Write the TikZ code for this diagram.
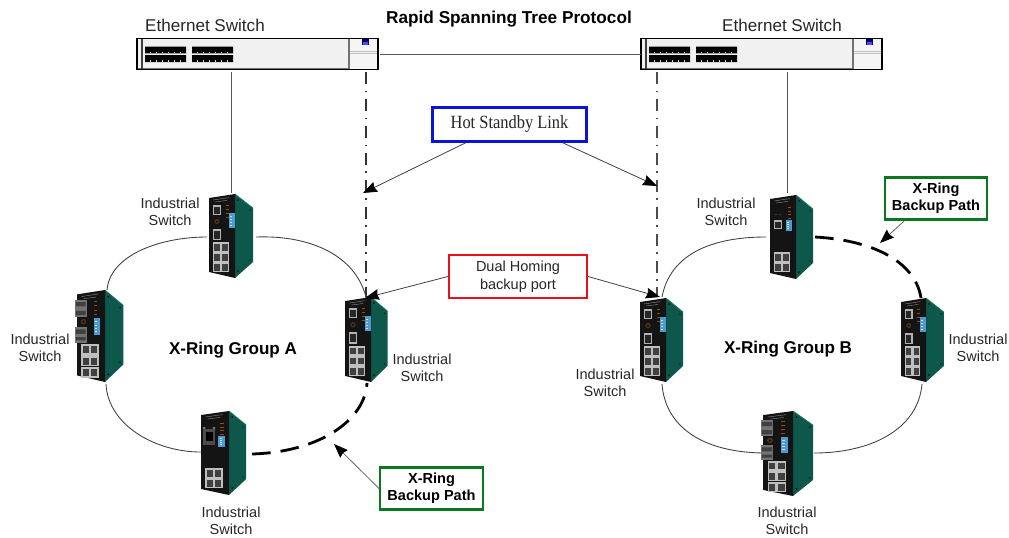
\documentclass[tikz,border=0pt]{standalone}
\usepackage{fontspec}
\setmainfont{Liberation Sans}
\newfontfamily\hotfont[FakeStretch=0.88]{Liberation Serif}
\usetikzlibrary{arrows.meta,calc}
\definecolor{teal1}{HTML}{0D584B}
\definecolor{teal2}{HTML}{1C7F6C}
\definecolor{dipblue}{HTML}{4F9BD0}
\definecolor{swfill}{HTML}{F1F1F1}
\tikzset{
  lbl/.style={align=center,inner sep=0pt,text=black!85,font=\fontsize{10.9}{12.8}\selectfont},
  ethlbl/.style={inner sep=0pt,text=black!85,font=\fontsize{12.8}{15}\selectfont},
  titlelbl/.style={inner sep=0pt,font=\fontsize{12.9}{15}\selectfont\bfseries},
  grouplbl/.style={inner sep=0pt,font=\fontsize{12.8}{15}\selectfont\bfseries},
  bluebox/.style={draw={rgb,255:red,10;green,20;blue,215},line width=1.9pt,fill=white,inner sep=0pt,
    minimum width=115.5pt,minimum height=25.5pt,font=\fontsize{14}{16}\selectfont\hotfont,text=black!85},
  redbox/.style={draw={rgb,255:red,235;green,15;blue,30},line width=1.7pt,fill=white,inner sep=0pt,align=center,
    minimum width=103.5pt,minimum height=32pt,font=\fontsize{10.9}{12.8}\selectfont,text=black!85},
  greenbox/.style={draw={rgb,255:red,10;green,120;blue,30},line width=1.7pt,fill=white,inner sep=0pt,align=center,
    minimum width=77pt,minimum height=31.5pt,font=\fontsize{10.9}{12.8}\selectfont\bfseries},
  ringline/.style={line width=0.65pt,black!75},
  backup/.style={line width=2.1pt,black,dash pattern=on 14pt off 7.5pt},
  uplink/.style={line width=0.65pt,black!65},
  standby/.style={line width=1pt,black!80,dash pattern=on 9pt off 5pt on 1.2pt off 5pt},
  pointer/.style={line width=0.6pt,black!75,-{Stealth[length=10.5pt,width=8pt,inset=1pt,color=black]}},
  devnode/.style={inner sep=0pt,outer sep=0pt,minimum size=1pt},
  swbox/.style={draw=black,line width=0.8pt,fill=swfill,inner sep=0pt,outer sep=0pt,minimum width=180.5pt,minimum height=23pt}
}
% RJ45 port
\newcommand{\rjport}[4]{%
  \fill[black!30] (#1,#2) rectangle ++(#3,#4);
  \fill[black!85] ($(#1,#2)+(1.4,1.6)$) rectangle ++($(#3,#4)-(2.8,3)$);
}
\newcommand{\lanport}[2]{%
  \fill[black!25] (#1,#2) rectangle ++(8,10);
  \fill[black!75] ($(#1,#2)+(1.3,2.2)$) rectangle ++(5.4,6.4);
}
\newcommand{\ledcol}[3]{%
  \foreach \k in {0,1,2,3}{\fill[orange!60!black] (#1,#2+\k*#3) rectangle ++(3,0.9);}
}
\newcommand{\dipsw}[3]{%
  \fill[dipblue] (#1,#2) rectangle ++(6,#3);
  \foreach \k in {1,2,3,4}{\fill[white!70!dipblue] (#1+1.2,#2+\k*#3/5-0.5) rectangle ++(2,1);}
}
% name, x, y, front width, height, green width (local), variant
\newcommand{\indsw}[7]{%
\begin{scope}[shift={(#2,#3)},xscale=#4/26,yscale=#5/84]
  \fill[teal1] (26,0) -- (26+#6,14) -- (26+#6,68) -- (26,84) -- cycle;
  \draw[teal2,line width=0.5pt] (26,0) -- (26+#6,14);
  \fill[black] (29,6) circle (0.9) (29,77) circle (0.9) (26+#6-3,16) circle (0.7) (26+#6-3,66) circle (0.7);
  \fill[black!92] (0,4) -- (26,0) -- (26,84) -- (0,78) -- cycle;
  \draw[black!45,line width=0.3pt] (4,6) -- (20,3.6) (6,8) -- (18,6.4);
  \ifcase#7\relax
    \rjport{4}{11}{8}{10}
    \fill[black!60!brown] (8,27.5) circle (2.6);
    \fill[black] (8,27.5) circle (1);
    \rjport{4}{35}{8}{11}
    \ledcol{17}{11}{4}
    \dipsw{19.5}{19}{15}
    \foreach \a in {4,12}{\foreach \b in {48,58,68}{\lanport{\a}{\b}}}
  \or
    \fill[black!55] (-2,9) rectangle (9,25);
    \fill[black!75] (-1,11) rectangle (8,15) (-1,19) rectangle (8,23);
    \fill[black!60!brown] (6,29) circle (2.6);
    \fill[black] (6,29) circle (1);
    \fill[black!55] (-2,34) rectangle (9,48);
    \fill[black!75] (-1,36) rectangle (8,40) (-1,43) rectangle (8,46);
    \ledcol{16}{10}{4}
    \dipsw{15.5}{26}{15}
    \foreach \a in {4,12}{\foreach \b in {49,59.5,70}{\lanport{\a}{\b}}}
  \or
    \fill[black!60!brown] (5,19) rectangle ++(2,1.2) (9,19) rectangle ++(2,1.2);
    \rjport{4}{25}{8}{9}
    \ledcol{18}{12}{3.5}
    \dipsw{15.5}{25}{11}
    \foreach \a in {4,12}{\foreach \b in {57,67}{\lanport{\a}{\b}}}
  \or
    \fill[black!55] (2,16) rectangle (4,20) (11,16) rectangle (13,20);
    \fill[black!70] (2,18) rectangle (13,34);
    \fill[black] (4.5,21) rectangle (11,30);
    \ledcol{18}{12}{3.5}
    \dipsw{16}{25}{11}
    \foreach \a in {4,12}{\foreach \b in {57,67}{\lanport{\a}{\b}}}
  \fi
  \path (13,42) node[devnode] (#1) {};
\end{scope}}
% name, x of left edge
\newcommand{\ethsw}[2]{%
\begin{scope}[shift={(#2,0)}]
  \node[swbox,anchor=north west] (#1) at (0,38.5) {};
  \draw[black!55,line width=1.4pt] (0.5,68.5) -- (211,68.5);
  \fill[black!55] (211,39) rectangle (212.5,69);
  \draw[black!75,line width=0.8pt] (5,39) -- (5,69);
  \fill[black] (8,46.5) rectangle ++(41,6.8) (55,46.5) rectangle ++(41,6.8)
               (8,55.2) rectangle ++(41,6.8) (55,55.2) rectangle ++(41,6.8);
  \foreach \a in {8,55}{\foreach \k in {1,...,6}{
     \fill[white!85!black] (\a+\k*6-1.5,51.5) rectangle ++(1.5,1.4);
     \fill[white!85!black] (\a+\k*6-1.5,60.3) rectangle ++(1.5,1.4);}}
  \fill[swfill!70!white] (212.5,39) rectangle (240.6,68.6);
  \draw[black!25,line width=0.5pt] (212.5,51) -- (241,51) (212.5,53) -- (241,53);
  \fill[blue!40!black] (225,39) rectangle ++(7,6);
  \fill[blue!70!white] (226,42) rectangle ++(5,3);
  \draw[black,line width=0.8pt] (0,38.5) rectangle (241,69.5);
\end{scope}}
\begin{document}
\begin{tikzpicture}[x=0.75pt,y=-0.75pt]
\useasboundingbox (0,0) rectangle (1009,537);
% ethernet switches
\ethsw{swa}{137}
\ethsw{swb}{641}
% named free ends
\coordinate (swaup) at (231,72);  \coordinate (tadn) at (231,193);
\coordinate (swads) at (366,72);  \coordinate (rads) at (366,297);
\coordinate (swbds) at (657,72);  \coordinate (lbds) at (657,295);
\coordinate (swbup) at (787,72);  \coordinate (tbdn) at (787,193);
\coordinate (swalk) at (380,54);  \coordinate (swblk) at (641,54);
% links from the ethernet switches
\draw[uplink] (swaup) -- (tadn);
\draw[uplink] (swbup) -- (tbdn);
\draw[uplink] (swalk) -- (swblk);
\draw[standby] (swads) -- (rads);
\draw[standby,black!70] (swbds) -- (lbds);
% ring A
\coordinate (taE) at (256,237); \coordinate (taW) at (207,237);
\coordinate (raN) at (366,297); \coordinate (raS) at (367,383);
\coordinate (laN) at (107,290); \coordinate (laS) at (106,384);
\coordinate (baW) at (201,452); \coordinate (baE) at (252,454);
\draw[ringline] (taE) .. controls (310,235) and (355,255) .. (raN);
\draw[ringline] (taW) .. controls (160,237) and (110,255) .. (laN);
\draw[ringline] (laS) .. controls (108,425) and (155,452) .. (baW);
\draw[backup] (baE) .. controls (320,452) and (365,420) .. (raS);
% ring B
\coordinate (tbW) at (766,237); \coordinate (tbE) at (815,237);
\coordinate (lbN) at (662,297); \coordinate (lbS) at (662,384);
\coordinate (rbN) at (921,298); \coordinate (rbS) at (922,384);
\coordinate (bbW) at (763,453); \coordinate (bbE) at (814,453);
\draw[ringline] (tbW) .. controls (710,237) and (670,255) .. (lbN);
\draw[ringline] (lbS) .. controls (665,425) and (700,452) .. (bbW);
\draw[ringline] (bbE) .. controls (870,453) and (918,430) .. (rbS);
\draw[backup] (tbE) .. controls (870,240) and (915,260) .. (rbN);
% industrial switches
\indsw{ta}{209}{194}{26}{84}{18}{0}
\indsw{la}{77}{290}{28}{92}{17}{1}
\indsw{ra}{345}{297}{26}{85}{16.5}{0}
\indsw{ba}{201}{411}{28}{84}{16}{3}
\indsw{tb}{770}{195}{26}{84}{17}{2}
\indsw{lb}{640}{298}{26}{84}{17}{0}
\indsw{rb}{901}{298}{25}{84}{18.5}{0}
\indsw{bb}{763}{411}{30}{85}{17.5}{1}
% callout boxes
\node[bluebox] (hot) at (509.5,124.5) {Hot Standby Link};
\node[redbox] (dual) at (518,276.5) {Dual Homing\\[1pt]backup port};
\node[greenbox] (ga) at (431.5,488.5) {X-Ring\\Backup Path};
\node[greenbox] (gb) at (936,198.5) {X-Ring\\Backup Path};
% arrows
\coordinate (hotL) at (363,193);
\coordinate (hotR) at (657,186);
\coordinate (dualL) at (365,298);
\coordinate (dualR) at (660,297);
\coordinate (gaT) at (334,444);
\coordinate (gbT) at (880,243);
\draw[pointer] ($(hot.south west)!0.22!(hot.south east)$) -- (hotL);
\draw[pointer] ($(hot.south west)!0.84!(hot.south east)$) -- (hotR);
\draw[pointer] (dual.west) -- (dualL);
\draw[pointer] (dual.east) -- (dualR);
\draw[pointer,black!60] (ga.west) -- (gaT);
\draw[pointer,black!60] ($(gb.south west)!0.2!(gb.south east)$) -- (gbT);
% labels
\node[ethlbl] (ea) at (205,25) {Ethernet Switch};
\node[ethlbl] (eb) at (782,25) {Ethernet Switch};
\node[titlelbl] (title) at (509,19.5) {Rapid Spanning Tree Protocol};
\node[lbl] (l1) at (170,212) {Industrial\\Switch};
\node[lbl] (l2) at (40,348) {Industrial\\Switch};
\node[lbl] (l3) at (422,368) {Industrial\\Switch};
\node[lbl] (l4) at (231,521) {Industrial\\Switch};
\node[lbl] (l5) at (605,383) {Industrial\\Switch};
\node[lbl] (l6) at (726,212) {Industrial\\Switch};
\node[lbl] (l7) at (978,348) {Industrial\\Switch};
\node[lbl] (l8) at (787,521) {Industrial\\Switch};
\node[grouplbl] (ga1) at (233,350) {X-Ring Group A};
\node[grouplbl] (gb1) at (788,349) {X-Ring Group B};
\end{tikzpicture}
\end{document}
